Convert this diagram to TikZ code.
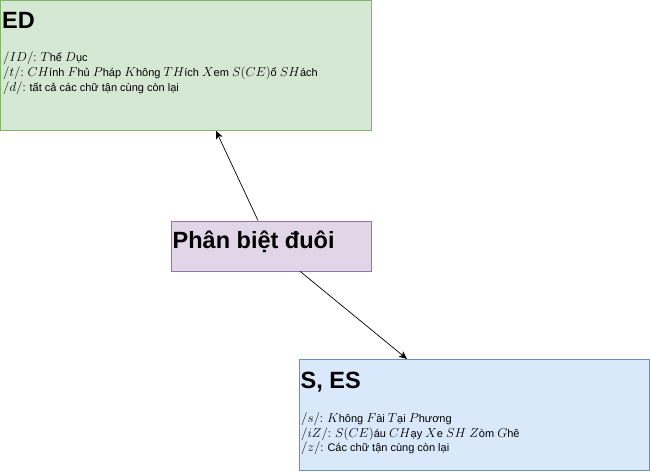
\RequirePackage{fix-cm}
\documentclass[tikz,border=0pt]{standalone}
\usepackage{fontspec}
\setmainfont{Liberation Sans}
\usetikzlibrary{arrows.meta,calc}
\definecolor{edfill}{HTML}{D5E8D4}
\definecolor{eddraw}{HTML}{82B366}
\definecolor{midfill}{HTML}{E1D5E7}
\definecolor{middraw}{HTML}{9673A6}
\definecolor{esfill}{HTML}{DAE8FC}
\definecolor{esdraw}{HTML}{6C8EBF}
\newcommand\mth[1]{{\fontsize{13}{14}\selectfont$#1$}}
\tikzset{
  box/.style={draw, line width=0.8pt, inner sep=0pt, anchor=north west},
  ttl/.style={anchor=base west, inner sep=0pt, font=\fontsize{23.5}{26}\selectfont\bfseries},
  body/.style={anchor=base west, inner sep=0pt, font=\fontsize{11}{14}\selectfont},
  conn/.style={line width=0.7pt, -{Stealth[length=8pt,width=7pt,inset=2pt]}}
}
\begin{document}
\begin{tikzpicture}[x=1pt,y=-1pt]
\useasboundingbox (0,0) rectangle (650,473);
\node[box, fill=edfill, draw=eddraw, minimum width=371pt, minimum height=130pt] (ed) at (0,0) {};
\node[box, fill=midfill, draw=middraw, minimum width=200pt, minimum height=50pt] (mid) at (170.5,220.5) {};
\node[box, fill=esfill, draw=esdraw, minimum width=350pt, minimum height=111pt] (es) at (299,359) {};

\node[ttl] (edt) at (2,29) {ED};
\node[body] (ed1) at (3,62) {\mth{/ID/}: \mth{T}hể \mth{D}ục};
\node[body] (ed2) at (3,77) {\mth{/t/}: \mth{CH}ính \mth{F}hủ \mth{P}háp \mth{K}hông \mth{TH}ích \mth{X}em \mth{S(CE)}ổ \mth{SH}ách};
\node[body] (ed3) at (3,92) {\mth{/d/}: tất cả các chữ tận cùng còn lại};

\node[ttl] (midt) at (172.5,248.5) {Phân biệt đuôi};

\node[ttl] (est) at (300.5,388) {S, ES};
\node[body] (es1) at (301,422) {\mth{/s/}: \mth{K}hông \mth{F}ài \mth{T}ại \mth{P}hương};
\node[body] (es2) at (301,437) {\mth{/iZ/}: \mth{S(CE)}áu \mth{CH}ạy \mth{X}e \mth{SH} \mth{Z}òm \mth{G}hê};
\node[body] (es3) at (301,451) {\mth{/z/}: Các chữ tận cùng còn lại};

\draw[conn] ([xshift=87.5pt]mid.north west) -- ([xshift=216pt]ed.south west);
\draw[conn] ([xshift=129.5pt]mid.south west) -- ([xshift=108pt]es.north west);
\end{tikzpicture}
\end{document}
